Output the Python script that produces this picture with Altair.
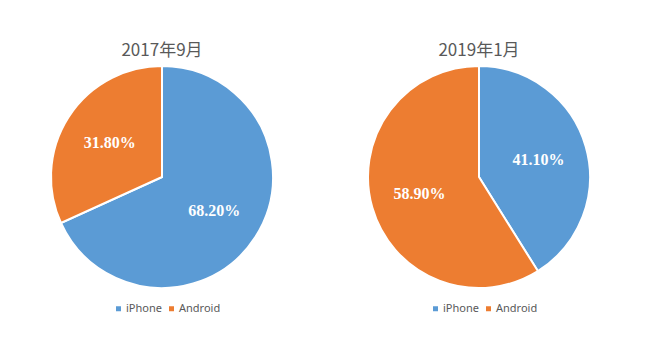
import altair as alt
import pandas as pd

titles = ["2017年9月", "2019年1月"]
brands = ["iPhone", "Android"]
share_2017 = [68.2, 31.8]
share_2019 = [41.1, 58.9]
colors = ["#5B9BD5", "#ED7D31"]


def pie(title, values):
    df = pd.DataFrame({
        "brand": brands,
        "share": values,
        "order": list(range(len(brands))),
        "label": [f"{v:.2f}%" for v in values],
    })
    base = alt.Chart(df).encode(
        theta=alt.Theta("share:Q", stack=True),
        order=alt.Order("order:Q"),
    )
    arcs = base.mark_arc(stroke="white", strokeWidth=2).encode(
        color=alt.Color(
            "brand:N",
            scale=alt.Scale(domain=brands, range=colors),
            legend=alt.Legend(
                orient="none", legendX=62, legendY=237, direction="horizontal",
                title=None, symbolType="square", symbolSize=25,
                labelFontSize=11, labelColor="#595959", labelFont="Noto Sans",
                columnPadding=4, labelOffset=2, symbolStrokeWidth=0,
            ),
        )
    )
    labels = base.mark_text(
        radius=62, font="Liberation Serif", fontSize=16, fontWeight="bold",
        color="white",
    ).encode(text="label:N", detail="brand:N")
    return (arcs + labels).properties(
        width=222, height=222,
        title=alt.TitleParams(title, fontSize=17, color="#595959",
                              font="Noto Sans CJK JP", fontWeight="normal",
                              anchor="middle", offset=2),
    )


chart = alt.hconcat(
    pie(titles[0], share_2017), pie(titles[1], share_2019), spacing=87
).resolve_scale(color="independent").resolve_legend(color="independent").properties(
    padding={"left": 47, "top": 42, "right": 10, "bottom": 10},
    background="white",
).configure_view(stroke=None)

chart.save("out.html", embed_options={"renderer": "svg", "actions": False})
